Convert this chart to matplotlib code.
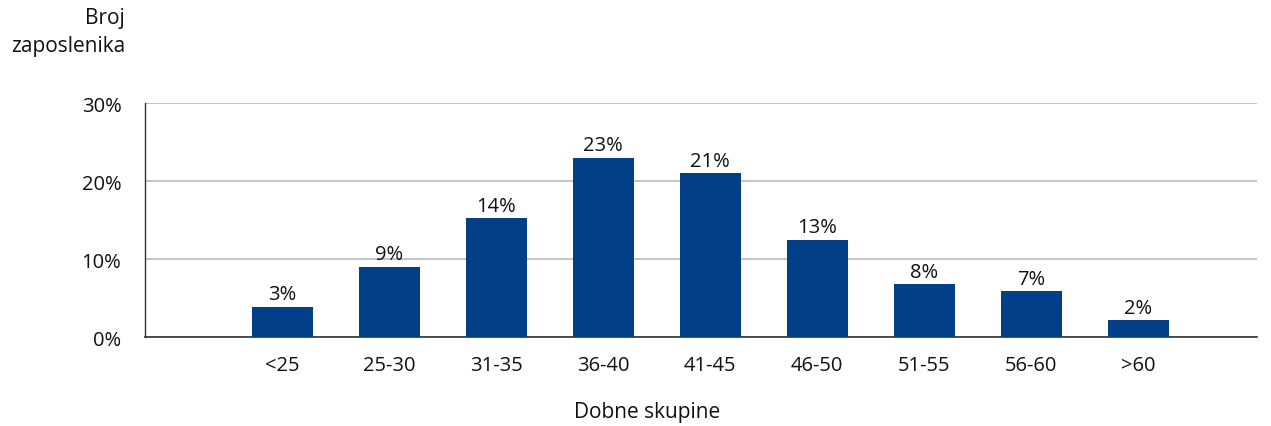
import numpy as np
import matplotlib.pyplot as plt

plt.rcParams['font.family'] = ['Open Sans', 'DejaVu Sans']

# podaci
kategorije = ['<25', '25-30', '31-35', '36-40', '41-45', '46-50', '51-55', '56-60', '>60']
vrijednosti = [3.9, 9.0, 15.2, 23.0, 21.0, 12.5, 6.8, 5.9, 2.2]
oznake = ['3%', '9%', '14%', '23%', '21%', '13%', '8%', '7%', '2%']

fig = plt.figure(figsize=(12.71, 4.27), dpi=100)
ax = fig.add_axes([0.1141, 0.2084, 0.8749, 0.548])

x = np.arange(len(kategorije))
bars = ax.bar(x, vrijednosti, width=0.57, color='#033f87', zorder=3)
for b, t in zip(bars, oznake):
    ax.text(b.get_x() + b.get_width() / 2, b.get_height() + 0.3, t,
            ha='center', va='bottom', fontsize=14.5, color='#111111')

ax.set_xlim(-1.28, len(kategorije) - 1 + 1.11)
ax.set_ylim(0, 30)
ax.set_yticks([0, 10, 20, 30])
ax.set_yticklabels(['0%', '10%', '20%', '30%'])
ax.set_xticks(x)
ax.set_xticklabels(kategorije)
ax.tick_params(axis='both', length=0, labelsize=14.5, colors='#111111')
ax.tick_params(axis='x', pad=13)
ax.tick_params(axis='y', pad=17)
ax.yaxis.grid(True, color='#b4b4b4', linewidth=1.1, zorder=0)
for s in ['top', 'right']:
    ax.spines[s].set_visible(False)
ax.spines['left'].set_color('#333333')
ax.spines['bottom'].set_color('#333333')
ax.spines['left'].set_linewidth(1.0)
ax.spines['bottom'].set_linewidth(1.2)

fig.text(125 / 1271, 1 - 8 / 427, 'Broj\nzaposlenika', ha='right', va='top',
         fontsize=15, color='#111111', linespacing=1.45)
fig.text(647 / 1271, 1 - 413 / 427, 'Dobne skupine', ha='center', va='center',
         fontsize=15, color='#111111')

plt.savefig('out.png', dpi=100)
